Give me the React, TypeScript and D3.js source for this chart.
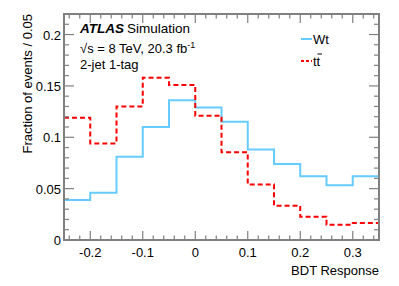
import React from "react";
import * as d3 from "d3";

// BDT response bins (lower edges), width 0.05
const binEdges = [-0.25, -0.2, -0.15, -0.1, -0.05, 0, 0.05, 0.1, 0.15, 0.2, 0.25, 0.3, 0.35];
const wtValues = [0.039, 0.046, 0.081, 0.11, 0.136, 0.129, 0.115, 0.088, 0.074, 0.062, 0.0533, 0.062];
const ttbarValues = [0.119, 0.094, 0.13, 0.158, 0.151, 0.121, 0.0855, 0.054, 0.0334, 0.0227, 0.0149, 0.0166];
const xTicks = [-0.2, -0.1, 0, 0.1, 0.2, 0.3];
const yTicks = [0, 0.05, 0.1, 0.15, 0.2];

const W = 399;
const H = 286;
const m = { left: 64, right: 20, top: 14, bottom: 46 };
const font = "'Liberation Sans', Arial, sans-serif";
const axisColor = "#808080";

function stepPath(values: number[], x: d3.ScaleLinear<number, number>, y: d3.ScaleLinear<number, number>) {
  const pts: [number, number][] = [];
  values.forEach((v, i) => {
    pts.push([x(binEdges[i]), y(v)]);
    pts.push([x(binEdges[i + 1]), y(v)]);
  });
  return d3.line()(pts) || "";
}

export default function App() {
  const x = d3.scaleLinear().domain([-0.25, 0.35]).range([m.left, W - m.right]);
  const y = d3.scaleLinear().domain([0, 0.22]).range([H - m.bottom, m.top]);
  const x0 = m.left, x1 = W - m.right, y0 = H - m.bottom, y1 = m.top;

  const xMinor = d3.range(-0.24, 0.3501, 0.02).map((d) => +d.toFixed(2));
  const yMinor = d3.range(0, 0.2201, 0.01).map((d) => +d.toFixed(2));

  return (
    <svg width={W} height={H} style={{ position: "absolute", left: 0, top: 0 }} fontFamily={font}>
      <rect width={W} height={H} fill="white" />
      <path d={stepPath(wtValues, x, y)} fill="none" stroke="#66ccff" strokeWidth={2} />
      <path d={stepPath(ttbarValues, x, y)} fill="none" stroke="#ff0000" strokeWidth={2} strokeDasharray="5,3" />

      {/* frame */}
      <rect x={x0} y={y1} width={x1 - x0} height={y0 - y1} fill="none" stroke={axisColor} strokeWidth={2} />

      {/* x ticks */}
      {xMinor.map((t) => {
        const major = xTicks.some((k) => Math.abs(k - t) < 1e-6);
        const len = major ? 9 : 4.5;
        return (
          <g key={"x" + t} stroke={axisColor} strokeWidth={1.2}>
            <line x1={x(t)} x2={x(t)} y1={y0} y2={y0 - len} />
            <line x1={x(t)} x2={x(t)} y1={y1} y2={y1 + len} />
          </g>
        );
      })}
      {/* y ticks */}
      {yMinor.map((t) => {
        const major = yTicks.some((k) => Math.abs(k - t) < 1e-6);
        const len = major ? 10 : 5;
        return (
          <g key={"y" + t} stroke={axisColor} strokeWidth={1.2}>
            <line x1={x0} x2={x0 + len} y1={y(t)} y2={y(t)} />
            <line x1={x1} x2={x1 - len} y1={y(t)} y2={y(t)} />
          </g>
        );
      })}

      {xTicks.map((t) => (
        <text key={"xl" + t} x={x(t)} y={y0 + 17} fontSize={13} textAnchor="middle" fill="#000">
          {t === 0 ? "0" : String(t)}
        </text>
      ))}
      {yTicks.map((t) => (
        <text key={"yl" + t} x={x0 - 3} y={y(t) + 5} fontSize={13} textAnchor="end" fill="#000">
          {t === 0 ? "0" : String(t)}
        </text>
      ))}

      <text x={x1} y={y0 + 35} fontSize={13} textAnchor="end" fill="#000">BDT Response</text>
      <text transform={`translate(32,${y1}) rotate(-90)`} fontSize={13} textAnchor="end" fill="#000">
        Fraction of events / 0.05
      </text>

      {/* labels */}
      <text x={80} y={33} fontSize={13.5} fill="#000">
        <tspan fontWeight="bold" fontStyle="italic">ATLAS</tspan>
        <tspan dx={3}>Simulation</tspan>
      </text>
      <text x={80} y={53} fontSize={13} fill="#000">
        √s = 8 TeV, 20.3 fb<tspan dy={-5} fontSize={9}>-1</tspan>
      </text>
      <text x={80} y={69} fontSize={13} fill="#000">2-jet 1-tag</text>

      {/* legend */}
      <line x1={301} x2={312} y1={39} y2={39} stroke="#66ccff" strokeWidth={2} />
      <text x={313} y={44} fontSize={13} fill="#000">Wt</text>
      <line x1={301} x2={312} y1={61} y2={61} stroke="#ff0000" strokeWidth={2} strokeDasharray="3,2" />
      <text x={313} y={66} fontSize={13} fill="#000">tt</text>
      <line x1={317.5} x2={322} y1={54} y2={54} stroke="#000" strokeWidth={1} />
    </svg>
  );
}
